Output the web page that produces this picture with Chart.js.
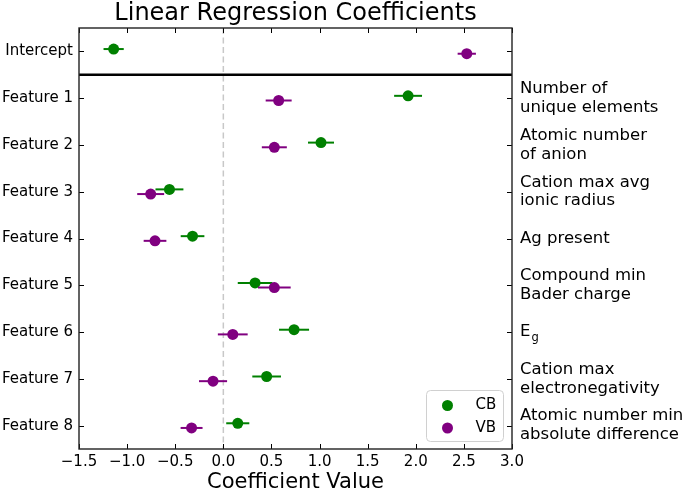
<!DOCTYPE html>
<html>
<head>
<meta charset="utf-8">
<script src="https://cdn.jsdelivr.net/npm/chart.js@4/dist/chart.umd.min.js"></script>
<style>
  body { margin: 0; background: #fff; }
</style>
</head>
<body>
<canvas id="coefs" width="685" height="493"></canvas>
<script>
const categories = ['Intercept', 'Feature 1', 'Feature 2', 'Feature 3', 'Feature 4',
                    'Feature 5', 'Feature 6', 'Feature 7', 'Feature 8'];
const featureNames = ['', ['Number of', 'unique elements'], ['Atomic number', 'of anion'],
                      ['Cation max avg', 'ionic radius'], 'Ag present', ['Compound min', 'Bader charge'],
                      'E', ['Cation max', 'electronegativity'], ['Atomic number min', 'absolute difference']];
const xTicks = [-1.5, -1.0, -0.5, 0.0, 0.5, 1.0, 1.5, 2.0, 2.5, 3.0];

const cbValues = [-1.14, 1.92, 1.015, -0.56, -0.32, 0.33, 0.735, 0.45, 0.15];
const cbErrors = [0.105, 0.145, 0.135, 0.145, 0.123, 0.18, 0.156, 0.149, 0.12];
const vbValues = [2.53, 0.575, 0.53, -0.755, -0.71, 0.53, 0.098, -0.107, -0.33];
const vbErrors = [0.095, 0.135, 0.13, 0.14, 0.118, 0.17, 0.155, 0.146, 0.114];

const GREEN = '#008000';
const PURPLE = '#800080';

Chart.defaults.font.family = "'DejaVu Sans', sans-serif";
Chart.defaults.color = '#000';

function points(values, off) {
  return values.map((v, i) => ({ x: v, y: i + off }));
}

function errorBars(values, errs, off, color, order) {
  return values.map((v, i) => ({
    type: 'line',
    label: '',
    data: [{ x: v - errs[i], y: i + off }, { x: v + errs[i], y: i + off }],
    borderColor: color,
    borderWidth: 2,
    pointRadius: 0,
    order: order
  }));
}

// inward ticks, frame, legend, subscript
const decorations = {
  id: 'decorations',
  afterDatasetsDraw(chart) {
    const ctx = chart.ctx;
    const a = chart.chartArea;
    const xs = chart.scales.x, ys = chart.scales.y;
    ctx.save();
    ctx.strokeStyle = '#000';
    ctx.lineWidth = 1;
    ctx.beginPath();
    xTicks.forEach(t => {
      const px = Math.round(xs.getPixelForValue(t)) + 0.5;
      ctx.moveTo(px, a.bottom); ctx.lineTo(px, a.bottom - 5);
      ctx.moveTo(px, a.top); ctx.lineTo(px, a.top + 5);
    });
    categories.forEach((c, i) => {
      const py = Math.round(ys.getPixelForValue(i)) + 0.5;
      ctx.moveTo(a.left, py); ctx.lineTo(a.left + 5, py);
      ctx.moveTo(a.right, py); ctx.lineTo(a.right - 5, py);
    });
    ctx.stroke();
    ctx.lineWidth = 1.4;
    ctx.strokeStyle = '#222';
    ctx.strokeRect(a.left, a.top, a.right - a.left, a.bottom - a.top);

    // legend
    const items = chart.data.datasets.filter(d => d.label);
    const bx = 426.5, by = 390.5, bw = 77, bh = 51;
    ctx.beginPath();
    ctx.roundRect(bx, by, bw, bh, 4);
    ctx.fillStyle = 'rgba(255,255,255,0.8)';
    ctx.fill();
    ctx.strokeStyle = '#d0d0d0';
    ctx.lineWidth = 1;
    ctx.stroke();
    ctx.font = "15px 'DejaVu Sans'";
    ctx.textBaseline = 'middle';
    ctx.textAlign = 'left';
    items.forEach((d, i) => {
      const cy = by + 15 + i * 22.5;
      ctx.beginPath();
      ctx.arc(bx + 21, cy, 5.5, 0, Math.PI * 2);
      ctx.fillStyle = d.backgroundColor;
      ctx.fill();
      ctx.fillStyle = '#000';
      ctx.fillText(d.label, bx + 49, cy);
    });

    // subscript g of E_g
    const r = chart.scales.y2;
    ctx.font = "16.5px 'DejaVu Sans'";
    const ew = ctx.measureText('E').width;
    ctx.font = "11.5px 'DejaVu Sans'";
    ctx.textBaseline = 'alphabetic';
    ctx.fillText('g', r.left + 8 + ew + 1, r.getPixelForValue(6) + 9);
    ctx.restore();
  }
};

new Chart(document.getElementById('coefs'), {
  type: 'scatter',
  data: {
    datasets: [
      { label: 'CB', data: points(cbValues, -0.05), backgroundColor: GREEN, pointRadius: 5.5, borderWidth: 0, order: 2 },
      ...errorBars(cbValues, cbErrors, -0.05, GREEN, 3),
      { label: 'VB', data: points(vbValues, 0.05), backgroundColor: PURPLE, pointRadius: 5.5, borderWidth: 0, order: 0 },
      ...errorBars(vbValues, vbErrors, 0.05, PURPLE, 1),
      { type: 'line', label: '', data: [{ x: -1.5, y: 0.5 }, { x: 3.0, y: 0.5 }],
        borderColor: '#000', borderWidth: 2.5, pointRadius: 0, order: 4 },
      { type: 'line', label: '', data: [{ x: 0, y: -0.5 }, { x: 0, y: 8.5 }],
        borderColor: '#c8c8c8', borderWidth: 1.5, borderDash: [6, 3.5], pointRadius: 0, order: 5 }
    ]
  },
  options: {
    responsive: false,
    animation: false,
    events: [],
    layout: { padding: 0 },
    plugins: {
      legend: { display: false },
      tooltip: { enabled: false },
      title: {
        display: true,
        fullSize: false,
        text: 'Linear Regression Coefficients',
        font: { size: 24, weight: 'normal', lineHeight: 1 },
        color: '#000',
        padding: { top: 2, bottom: 2 }
      }
    },
    scales: {
      x: {
        type: 'linear',
        min: -1.5,
        max: 3.0,
        afterBuildTicks: s => { s.ticks = xTicks.map(v => ({ value: v })); },
        afterFit: s => { s.height = 44; },
        ticks: {
          font: { size: 15 },
          padding: 4,
          maxRotation: 0,
          callback: v => (v < -1e-9 ? '\u2212' : '') + Math.abs(v).toFixed(1)
        },
        grid: { display: false, drawTicks: false },
        border: { display: false },
        title: {
          display: true,
          text: 'Coefficient Value',
          font: { size: 21, lineHeight: 1 },
          padding: { top: 0, bottom: 0 }
        }
      },
      y: {
        type: 'linear',
        reverse: true,
        min: -0.5,
        max: 8.5,
        afterBuildTicks: s => { s.ticks = categories.map((c, i) => ({ value: i })); },
        afterFit: s => { s.width = 79; },
        ticks: { font: { size: 15 }, padding: 6, callback: v => categories[v] },
        grid: { display: false, drawTicks: false },
        border: { display: false }
      },
      y2: {
        type: 'linear',
        position: 'right',
        reverse: true,
        min: -0.5,
        max: 8.5,
        afterBuildTicks: s => { s.ticks = categories.map((c, i) => ({ value: i })); },
        afterFit: s => { s.width = 173; },
        ticks: { font: { size: 16.5, lineHeight: 1.15 }, padding: 8, callback: v => featureNames[v] },
        grid: { display: false, drawTicks: false },
        border: { display: false }
      }
    }
  },
  plugins: [decorations]
});
</script>
</body>
</html>
